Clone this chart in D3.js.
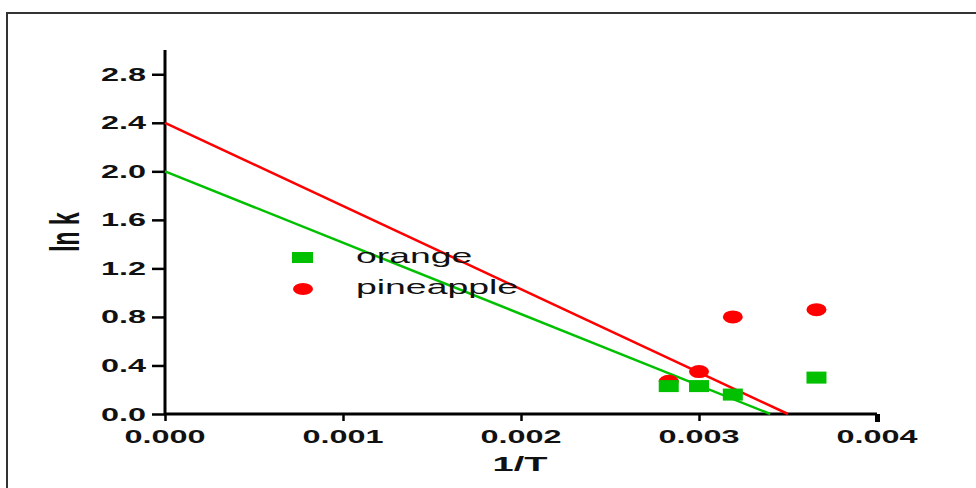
<!DOCTYPE html>
<html>
<head>
<meta charset="utf-8">
<script src="https://cdn.jsdelivr.net/npm/d3@7"></script>
<style>
  body { margin: 0; background: #fff; }
  text { font-family: "Liberation Sans", Arial, sans-serif; }
</style>
</head>
<body>
<script>
// data
var invT = [0.00283, 0.00300, 0.00319, 0.00366];
var lnkOrange = [0.23, 0.23, 0.16, 0.30];
var lnkPineapple = [0.27, 0.35, 0.80, 0.86];

// fitted lines: endpoints (1/T, ln k)
var fitOrangeX = [0, 0.0034];
var fitOrangeY = [2.0, 0];
var fitPineX = [0, 0.0035];
var fitPineY = [2.4, 0];

var xTicks = [0, 0.001, 0.002, 0.003, 0.004];
var yTicks = [0, 0.4, 0.8, 1.2, 1.6, 2.0, 2.4, 2.8];

var GREEN = '#00c000', RED = '#ff0000';
var SX = 1.8; // picture is stretched sideways

var svg = d3.select('body').append('svg').attr('width', 976).attr('height', 488);

// frame (only top and left show)
svg.append('path').attr('d', 'M7,488 L7,13 L976,13')
  .attr('fill', 'none').attr('stroke', '#333').attr('stroke-width', 2);

var x = d3.scaleLinear().domain([0, 0.004]).range([165, 877]);
var y = d3.scaleLinear().domain([0, 3]).range([414, 50]);

// axes
var xAxis = svg.append('g').attr('transform', 'translate(0,414)')
  .call(d3.axisBottom(x).tickValues(xTicks).tickSize(7).tickFormat(''));
var yAxis = svg.append('g').attr('transform', 'translate(165,0)')
  .call(d3.axisLeft(y).tickValues(yTicks).tickSize(13).tickFormat(''));
[xAxis, yAxis].forEach(function(a) {
  a.select('.domain').attr('stroke', '#000').attr('stroke-width', 3);
  a.selectAll('.tick line').attr('stroke', '#000').attr('stroke-width', 2.5);
});
xAxis.select('.domain').attr('d', 'M' + x(0) + ',0H' + x(0.004));
yAxis.select('.domain').attr('d', 'M0,' + y(0) + 'V' + y(3));
xAxis.selectAll('.tick').filter(function(d) { return d === 0.004; })
  .select('line').attr('stroke-width', 5).attr('y2', 8);

// tick labels (stretched text)
svg.selectAll('.xlab').data(xTicks).enter().append('text')
  .attr('class', 'xlab')
  .attr('transform', function(d) { return 'translate(' + x(d) + ',443) scale(' + SX + ',1)'; })
  .attr('text-anchor', 'middle').attr('font-size', 18).attr('font-weight', 'bold')
  .attr('fill', '#111')
  .text(function(d) { return d3.format('.3f')(d); });

svg.selectAll('.ylab').data(yTicks).enter().append('text')
  .attr('class', 'ylab')
  .attr('transform', function(d) { return 'translate(146,' + (y(d) + 6.5) + ') scale(' + SX + ',1)'; })
  .attr('text-anchor', 'end').attr('font-size', 18).attr('font-weight', 'bold')
  .attr('fill', '#111')
  .text(function(d) { return d3.format('.1f')(d); });

// axis titles
svg.append('text')
  .attr('transform', 'translate(520,471) scale(1.9,1)')
  .attr('text-anchor', 'middle').attr('font-size', 20).attr('font-weight', 'bold')
  .attr('fill', '#111').text('1/T');
svg.append('text')
  .attr('transform', 'translate(79,232) scale(' + SX + ',1) rotate(-90)')
  .attr('text-anchor', 'middle').attr('font-size', 23).attr('font-weight', 'bold')
  .attr('fill', '#111').text('ln k');

// fitted lines
var line = d3.line().x(function(d) { return x(d[0]); }).y(function(d) { return y(d[1]); });
svg.append('path').datum(d3.zip(fitOrangeX, fitOrangeY)).attr('d', line)
  .attr('fill', 'none').attr('stroke', GREEN).attr('stroke-width', 2.5);
svg.append('path').datum(d3.zip(fitPineX, fitPineY)).attr('d', line)
  .attr('fill', 'none').attr('stroke', RED).attr('stroke-width', 2.5);

// points
svg.selectAll('.pine').data(d3.zip(invT, lnkPineapple)).enter().append('ellipse')
  .attr('class', 'pine')
  .attr('cx', function(d) { return x(d[0]); })
  .attr('cy', function(d) { return y(d[1]); })
  .attr('rx', 10).attr('ry', 6.5).attr('fill', RED);
svg.selectAll('.orange').data(d3.zip(invT, lnkOrange)).enter().append('rect')
  .attr('class', 'orange')
  .attr('x', function(d) { return x(d[0]) - 10; })
  .attr('y', function(d) { return y(d[1]) - 6; })
  .attr('width', 20).attr('height', 12).attr('fill', GREEN);

// legend
svg.append('rect').attr('x', 292).attr('y', 252).attr('width', 21).attr('height', 11).attr('fill', GREEN);
svg.append('ellipse').attr('cx', 303).attr('cy', 289).attr('rx', 10).attr('ry', 6).attr('fill', RED);
svg.append('text').attr('transform', 'translate(356,263) scale(1.87,1)')
  .attr('font-size', 20).attr('fill', '#111').text('orange');
svg.append('text').attr('transform', 'translate(356,294) scale(1.87,1)')
  .attr('font-size', 20).attr('fill', '#111').text('pineapple');
</script>
</body>
</html>
